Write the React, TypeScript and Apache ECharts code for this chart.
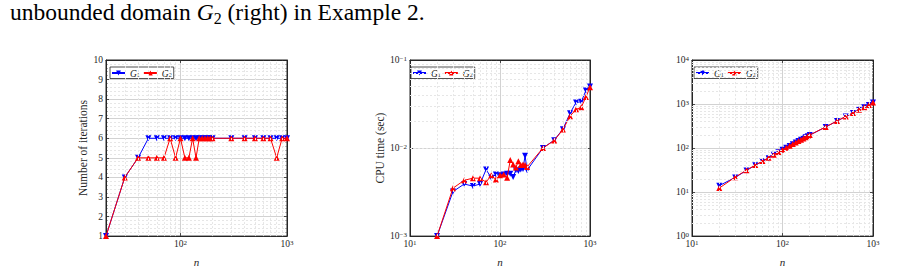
import React, { useEffect, useRef } from 'react';
import * as echarts from 'echarts';

// ---------- data ----------
const nValues = [20, 30, 40, 50, 60, 70, 80, 90, 100, 110, 120, 130, 140, 150, 160, 170, 180, 190, 200, 300, 400, 500, 600, 700, 800, 900, 1000];

const iterG1 = [1, 4, 5, 6, 6, 6, 6, 6, 6, 6, 6, 6, 6, 6, 6, 6, 6, 6, 6, 6, 6, 6, 6, 6, 6, 6, 6];
const iterG2 = [1, 4, 5, 5, 5, 5, 6, 5, 6, 5, 5, 6, 5, 6, 6, 6, 6, 6, 6, 6, 6, 6, 6, 6, 5, 6, 6];

const cpuG1 = [1.0e-3, 3.2e-3, 3.9e-3, 3.7e-3, 3.9e-3, 5.7e-3, 4.6e-3, 5.0e-3, 4.9e-3, 5.0e-3, 5.1e-3, 5.1e-3, 4.7e-3, 5.6e-3, 5.5e-3, 5.7e-3, 5.8e-3, 8.2e-3, 5.6e-3, 1.0e-2, 1.23e-2, 1.64e-2, 2.48e-2, 3.3e-2, 3.35e-2, 4.5e-2, 5.0e-2];
const cpuG2 = [1.0e-3, 3.5e-3, 4.3e-3, 4.55e-3, 4.55e-3, 4.1e-3, 4.9e-3, 4.4e-3, 4.9e-3, 5.0e-3, 4.6e-3, 7.3e-3, 6.5e-3, 6.0e-3, 7.1e-3, 6.4e-3, 6.5e-3, 6.4e-3, 6.1e-3, 1.0e-2, 1.22e-2, 1.62e-2, 2.3e-2, 2.75e-2, 2.9e-2, 3.8e-2, 4.9e-2];

const sizeG1 = [14, 21.5, 31, 40.5, 50, 59, 70, 80, 91, 101, 112, 122, 133, 144, 154, 165, 176, 186, 197, 300, 410, 520, 625, 740, 845, 950, 1080];
const sizeG2 = [12.3, 21.8, 31.5, 41, 50.5, 60, 70.5, 81, 91.5, 102, 112.5, 123, 133.5, 144, 155, 165.5, 176, 187, 197.5, 302, 412, 522, 628, 742, 848, 955, 1090];

const seriesNames = ['G1', 'G2'];
const yNames = ['Number of iterations', 'CPU time (sec)', ''];
const xName = 'n';

const minorX1 = [30, 40, 50, 60, 70, 80, 90, 200, 300, 400, 500, 600, 700, 800, 900];
const minorX23 = [20, 30, 40, 50, 60, 70, 80, 90, 200, 300, 400, 500, 600, 700, 800, 900];
const minorY2 = [2e-3, 3e-3, 4e-3, 5e-3, 6e-3, 7e-3, 8e-3, 9e-3, 2e-2, 3e-2, 4e-2, 5e-2, 6e-2, 7e-2, 8e-2, 9e-2];
const minorY3 = [2, 3, 4, 5, 6, 7, 8, 9, 20, 30, 40, 50, 60, 70, 80, 90, 200, 300, 400, 500, 600, 700, 800, 900, 2000, 3000, 4000, 5000, 6000, 7000, 8000, 9000];

// ---------- style ----------
const SERIF = '"Liberation Serif", "Times New Roman", serif';
const AX = '#262626';
const MAJOR = '#d2d2d2';
const MINOR = '#e6e6e6';
const BLUE = '#0000ff';
const RED = '#ff0000';

const grids = [
  { left: 106, top: 60, width: 181, height: 180 },
  { left: 410, top: 60, width: 180, height: 180 },
  { left: 692, top: 60, width: 181, height: 180 },
];
const legendLeft = [110, 411, 694];
const yNameGap = [17, 24, 24];

const supRich = {
  b: { fontFamily: SERIF, fontSize: 9.5, color: AX, lineHeight: 10, verticalAlign: 'bottom' },
  s: { fontFamily: SERIF, fontSize: 7, color: AX, lineHeight: 7, padding: [0, 0, 5, 0], verticalAlign: 'top' },
};

function powLabel(v: number): string {
  const l = Math.log10(v);
  const e = Math.round(l);
  if (Math.abs(l - e) > 1e-6) return '';
  return `{b|10}{s|${e < 0 ? '\u2212' + -e : e}}`;
}

const baseAxis = (extra: any) => ({
  gridIndex: 0,
  axisLine: { show: true, onZero: false, lineStyle: { color: AX, width: 1 } },
  axisTick: { show: true, inside: true, length: 3, lineStyle: { color: AX, width: 0.8 } },
  axisLabel: { color: AX, fontFamily: SERIF, fontSize: 9.5, margin: 3 },
  splitLine: { show: true, lineStyle: { color: MAJOR, width: 1 } },
  ...extra,
});

function buildOption() {
  const xAxis: any[] = [];
  const yAxis: any[] = [];
  const series: any[] = [];
  const legend: any[] = [];

  const xRanges = [[20, 1000], [10, 1000], [10, 1000]];
  const yRanges = [[1, 10], [1e-3, 1e-1], [1, 1e4]];
  const dataSets = [[iterG1, iterG2], [cpuG1, cpuG2], [sizeG1, sizeG2]];
  const minorXs = [minorX1, minorX23, minorX23];
  const minorYs = [[], minorY2, minorY3];

  for (let i = 0; i < 3; i++) {
    const [xmin, xmax] = xRanges[i];
    const [ymin, ymax] = yRanges[i];
    xAxis.push(baseAxis({
      gridIndex: i, type: 'log', logBase: 10, min: xmin, max: xmax, position: 'bottom',
      name: xName, nameLocation: 'middle', nameGap: 15,
      nameTextStyle: { fontFamily: SERIF, fontStyle: 'italic', fontSize: 11, color: AX },
      axisLabel: { color: AX, fontFamily: SERIF, fontSize: 9.5, margin: 3, formatter: powLabel, rich: supRich },
    }));
    xAxis.push(baseAxis({
      gridIndex: i, type: 'log', logBase: 10, min: xmin, max: xmax, position: 'top',
      axisLabel: { show: false }, splitLine: { show: false },
    }));
    if (i === 0) {
      yAxis.push(baseAxis({
        gridIndex: i, type: 'value', min: ymin, max: ymax, interval: 1, position: 'left',
        name: yNames[i], nameLocation: 'middle', nameGap: yNameGap[i],
        nameTextStyle: { fontFamily: SERIF, fontSize: 11.5, color: AX },
        minorTick: { show: true, splitNumber: 5, length: 1.5, lineStyle: { color: AX, width: 0.6 } },
        minorSplitLine: { show: true, lineStyle: { color: MINOR, width: 1, type: [2, 2] } },
      }));
      yAxis.push(baseAxis({
        gridIndex: i, type: 'value', min: ymin, max: ymax, interval: 1, position: 'right',
        axisLabel: { show: false }, splitLine: { show: false },
        minorTick: { show: true, splitNumber: 5, length: 1.5, lineStyle: { color: AX, width: 0.6 } },
      }));
    } else {
      yAxis.push(baseAxis({
        gridIndex: i, type: 'log', logBase: 10, min: ymin, max: ymax, position: 'left',
        name: yNames[i], nameLocation: 'middle', nameGap: yNameGap[i],
        nameTextStyle: { fontFamily: SERIF, fontSize: 11.5, color: AX },
        axisLabel: { color: AX, fontFamily: SERIF, fontSize: 9.5, margin: 3, formatter: powLabel, rich: supRich },
      }));
      yAxis.push(baseAxis({
        gridIndex: i, type: 'log', logBase: 10, min: ymin, max: ymax, position: 'right',
        axisLabel: { show: false }, splitLine: { show: false },
      }));
    }

    series.push({
      type: 'line', name: 'minor' + i, xAxisIndex: 2 * i, yAxisIndex: 2 * i, data: [], silent: true, z: 1,
      markLine: {
        silent: true, symbol: ['none', 'none'], label: { show: false },
        lineStyle: { color: MINOR, width: 1, type: [2, 2] },
        emphasis: { disabled: true },
        data: [
          ...minorXs[i].map((v) => ({ xAxis: v })),
          ...minorYs[i].map((v) => ({ yAxis: v })),
        ],
      },
    });

    const [d1, d2] = dataSets[i];
    series.push({
      type: 'line', name: seriesNames[0], xAxisIndex: 2 * i, yAxisIndex: 2 * i, z: 3,
      data: nValues.map((n, k) => [n, d1[k]]),
      symbol: 'triangle', symbolSize: 6, symbolRotate: 180,
      lineStyle: { color: BLUE, width: 1 }, itemStyle: { color: BLUE },
    });
    series.push({
      type: 'line', name: seriesNames[1], xAxisIndex: 2 * i, yAxisIndex: 2 * i, z: 4,
      data: nValues.map((n, k) => [n, d2[k]]),
      symbol: 'triangle', symbolSize: 6,
      lineStyle: { color: RED, width: 1 }, itemStyle: { color: RED },
    });

    legend.push({
      left: legendLeft[i], top: 67, orient: 'horizontal', data: seriesNames, selectedMode: false,
      itemWidth: 13, itemHeight: 6, itemGap: 3, padding: [1, 2, 0, 1],
      borderColor: AX, borderWidth: 0.8, backgroundColor: '#fff', borderRadius: 0,
      formatter: (name: string) => `{i|G}{s|${name.slice(1)}}`,
      textStyle: {
        color: '#1a1a1a',
        rich: {
          i: { fontFamily: SERIF, fontStyle: 'italic', fontSize: 9.5, color: '#1a1a1a', lineHeight: 9, verticalAlign: 'top' },
          s: { fontFamily: SERIF, fontSize: 6, color: '#1a1a1a', lineHeight: 6, padding: [4, 0, 0, 0] },
        },
      },
    });
  }

  return {
    animation: false,
    backgroundColor: '#ffffff',
    grid: grids.map((g) => ({ ...g, show: true, borderColor: AX, borderWidth: 1, backgroundColor: 'transparent' })),
    xAxis, yAxis, series, legend,
    graphic: [
      {
        type: 'text', left: 10, top: 0,
        style: {
          text: '{r|unbounded domain }{i|G}{s|2}{r| (right) in Example 2.}',
          rich: {
            r: { fontFamily: SERIF, fontSize: 23.5, fill: '#000', lineHeight: 26, verticalAlign: 'top' },
            i: { fontFamily: SERIF, fontStyle: 'italic', fontSize: 23.5, fill: '#000', lineHeight: 26, verticalAlign: 'top' },
            s: { fontFamily: SERIF, fontSize: 16, fill: '#000', lineHeight: 16, padding: [10, 0, 0, 0] },
          },
        },
      },
    ],
  };
}

export default function App() {
  const ref = useRef<HTMLDivElement>(null);
  useEffect(() => {
    if (!ref.current) return;
    const chart = echarts.init(ref.current, null, { renderer: 'svg' });
    chart.setOption(buildOption() as any);
    return () => chart.dispose();
  }, []);
  return (
    <div
      ref={ref}
      style={{ position: 'absolute', left: 0, top: 0, width: 915, height: 272, background: '#fff' }}
    />
  );
}
